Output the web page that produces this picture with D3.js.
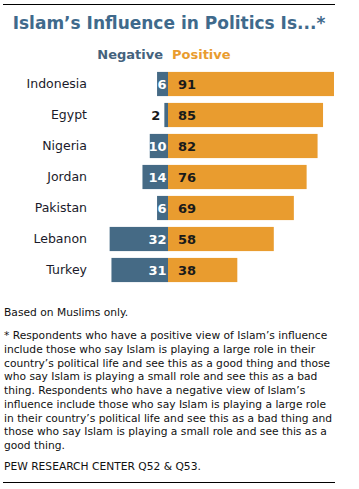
<!DOCTYPE html>
<html><head><meta charset="utf-8">
<script src="https://cdn.jsdelivr.net/npm/d3@7"></script>
<style>body{margin:0;background:#fff;} svg{display:block;font-family:"DejaVu Sans",Verdana,sans-serif;}</style>
</head><body>
<script>
const countries = ["Indonesia","Egypt","Nigeria","Jordan","Pakistan","Lebanon","Turkey"];
const negative = [6,2,10,14,6,32,31];
const positive = [91,85,82,76,69,58,38];
const seriesNames = ["Negative","Positive"];
const title = "Islam\u2019s Influence in Politics Is...*";
const note1 = "Based on Muslims only.";
const footLines = [
 "* Respondents who have a positive view of Islam\u2019s influence",
 "include those who say Islam is playing a large role in their",
 "country\u2019s political life and see this as a good thing and those",
 "who say Islam is playing a small role and see this as a bad",
 "thing. Respondents who have a negative view of Islam\u2019s",
 "influence include those who say Islam is playing a large role",
 "in their country\u2019s political life and see this as a bad thing and",
 "those who say Islam is playing a small role and see this as a",
 "good thing."
];
const source = "PEW RESEARCH CENTER Q52 & Q53.";

const W=359,H=489;
const negColor="#456a85", posColor="#e99c2f", titleColor="#3f6a8c";
const svg=d3.select("body").append("svg").attr("width",W).attr("height",H);

svg.append("line").attr("x1",3).attr("x2",335).attr("y1",4.5).attr("y2",4.5).attr("stroke","#000").attr("stroke-width",1);
svg.append("line").attr("x1",3).attr("x2",335).attr("y1",482.5).attr("y2",482.5).attr("stroke","#000").attr("stroke-width",1);

svg.append("text").attr("x",169).attr("y",29).attr("text-anchor","middle")
  .attr("font-size",17).attr("font-weight","bold").attr("fill",titleColor).text(title);

svg.append("text").attr("x",163).attr("y",59).attr("text-anchor","end").attr("font-size",13)
  .attr("font-weight","bold").attr("fill","#44627d").text(seriesNames[0]);
svg.append("text").attr("x",172).attr("y",59).attr("text-anchor","start").attr("font-size",13)
  .attr("font-weight","bold").attr("fill",posColor).text(seriesNames[1]);

const x=d3.scaleLinear().domain([0,100]).range([168,168+182.4]);
const y=d3.scaleBand().domain(countries).range([68.5,285.5]).paddingInner(0.22).paddingOuter(0.11);

const rows=svg.append("g").selectAll("g").data(countries).join("g")
  .attr("transform",d=>`translate(0,${y(d)})`);
const bh=y.bandwidth();

rows.append("rect").attr("x",(d,i)=>x(0)-(x(negative[i])-x(0))).attr("width",(d,i)=>x(negative[i])-x(0))
  .attr("y",0).attr("height",bh).attr("fill",negColor);
rows.append("rect").attr("x",x(0)).attr("width",(d,i)=>x(positive[i])-x(0))
  .attr("y",0).attr("height",bh).attr("fill",posColor);

rows.append("text").attr("x",87).attr("y",bh/2+4.5).attr("text-anchor","end").attr("font-size",12.5)
  .attr("fill","#1a1a2a").text(d=>d);

rows.append("text").attr("x",178).attr("y",bh/2+5).attr("font-size",13).attr("font-weight","bold")
  .attr("fill","#1a1a1a").text((d,i)=>positive[i]);

rows.append("text").attr("x",(d,i)=>{const w=x(negative[i])-x(0); return w<8? x(0)-w-4 : x(0)-1.5;})
  .attr("y",bh/2+5).attr("text-anchor","end").attr("font-size",13).attr("font-weight","bold")
  .attr("fill",(d,i)=> (x(negative[i])-x(0))<8 ? "#1a1a1a" : "#fff").text((d,i)=>negative[i]);

const fs=10.7;
svg.append("text").attr("x",4).attr("y",316).attr("font-size",fs).attr("fill","#111").text(note1);
svg.append("g").selectAll("text").data(footLines).join("text")
  .attr("x",4).attr("y",(d,i)=>339+i*13.75).attr("font-size",fs).attr("fill","#111").text(d=>d);
svg.append("text").attr("x",4).attr("y",470).attr("font-size",fs).attr("fill","#111").text(source);
</script>
</body></html>
